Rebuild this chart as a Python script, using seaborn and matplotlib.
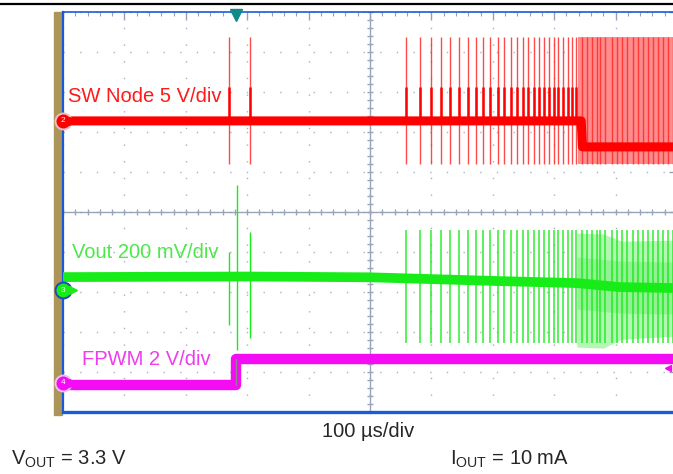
import numpy as np
import seaborn as sns
import matplotlib.pyplot as plt
from matplotlib.patches import Rectangle
from matplotlib.lines import Line2D

# ---- data (time in us, 100 us/div) ----
# SW node, volts (5 V/div)
sw_level_t = [0, 844, 846, 1000]
sw_level_v = [0.0, 0.0, -3.25, -3.25]
sw_early_t = [270, 305]
sw_burst_t = [559, 581, 600, 616, 630, 645, 659, 673, 684, 696, 708, 719, 729,
              739, 749, 758, 767, 776, 784, 792, 800, 807, 814, 822, 829, 836]
sw_dense_t = [845, 853, 862, 870, 875, 883, 894, 902, 910, 919, 928, 936, 945,
              953, 961, 969, 977, 985, 993]
sw_spike_hi = 10.5
sw_spike_lo = -5.4
sw_tail_hi = 4.25

# Vout ripple, mV (200 mV/div)
vout_level_t = [0, 300, 500, 712, 837, 907, 1000]
vout_level_mv = [65, 68, 64, 45, 35, 15, 10]
vout_early_t = [270, 283, 305]
vout_early_hi = [190, 525, 290]
vout_early_lo = [-175, -300, -240]
vout_spike_hi = 300
vout_spike_lo = -265
vout_band_t = [837, 880, 910, 1000]
vout_band_hi = [285, 280, 245, 250]
vout_band_lo = [-285, -290, -245, -230]

# FPWM pin, volts (2 V/div)
fpwm_t = [0, 282, 282, 1000]
fpwm_v = [-0.1, -0.1, 1.2, 1.2]

# channel scale (units per div) and screen offset (div)
SW_SCALE, SW_OFS = 5.0, 2.27
VOUT_SCALE, VOUT_OFS = 200.0, -1.96
FPWM_SCALE, FPWM_OFS = 2.0, -4.28

RED = '#ff0000'
GREEN = '#18ec18'
MAGENTA = '#f40cf4'


def div(v, scale, ofs):
    return np.asarray(v, dtype=float) / scale + ofs


sns.set_style('white')
plt.rcParams['font.family'] = ['Liberation Sans', 'DejaVu Sans']
plt.rcParams['mathtext.default'] = 'regular'

fig = plt.figure(figsize=(6.73, 4.74), dpi=100)
ax = fig.add_axes([63 / 673, 62.3 / 474, 614 / 673, 400 / 474])
ax.set_xlim(0, 1000)
ax.set_ylim(-5, 5)

# graticule
ax.set_xticks(np.arange(0, 1001, 100))
ax.set_xticks(np.arange(0, 1001, 20), minor=True)
ax.set_yticks(np.arange(-5, 5.1, 1))
ax.set_yticks(np.arange(-5, 5.1, 0.2), minor=True)
ax.grid(True, which='major', color='#a8b0c0', lw=1.0, ls=(0, (1, 11)))
ax.tick_params(which='both', direction='in', top=True, right=True,
               labelbottom=False, labelleft=False, color='#98a0b4')
ax.tick_params(which='major', length=6, width=1)
ax.tick_params(which='minor', length=3, width=0.8)
ax.axhline(0, color='#9aa4b8', lw=1.0, zorder=1)
ax.axvline(500, color='#9aa4b8', lw=1.0, zorder=1)
mx = np.arange(0, 1001, 20)
my = np.arange(-5, 5.1, 0.2)
ax.plot(mx, np.zeros_like(mx), ls='', marker='|', ms=5, color='#9aa4b8', zorder=1)
ax.plot(np.full_like(my, 500), my, ls='', marker='_', ms=5, color='#9aa4b8', zorder=1)
for side in ['left', 'bottom', 'top', 'right']:
    ax.spines[side].set_color('#1a5ad8')
ax.spines['left'].set_linewidth(1.6)
ax.spines['bottom'].set_linewidth(2.4)
ax.spines['top'].set_linewidth(1.2)

# ---- SW node (channel 2) ----
ax.fill_between([838, 1000], div(sw_spike_lo, SW_SCALE, SW_OFS),
                div(sw_spike_hi, SW_SCALE, SW_OFS), color='#ff8c8c', lw=0, zorder=2)
sw_all = sw_early_t + sw_burst_t + sw_dense_t
ax.vlines(sw_all, div(sw_spike_lo, SW_SCALE, SW_OFS), div(sw_spike_hi, SW_SCALE, SW_OFS),
          color='#ff2a2a', lw=1.0, alpha=0.85, zorder=3)
ax.vlines(sw_early_t + sw_burst_t, div(0.0, SW_SCALE, SW_OFS),
          div(sw_tail_hi, SW_SCALE, SW_OFS), color=RED, lw=1.8, zorder=4)
sns.lineplot(x=sw_level_t, y=div(sw_level_v, SW_SCALE, SW_OFS), ax=ax, color=RED,
             lw=6.5, estimator=None, sort=False, zorder=5)

# ---- Vout (channel 3) ----
v_lvl = np.interp(vout_band_t, vout_level_t, vout_level_mv)
ax.fill_between(vout_band_t, div(np.array(vout_band_lo), VOUT_SCALE, VOUT_OFS),
                div(np.array(vout_band_hi), VOUT_SCALE, VOUT_OFS),
                color='#b4f6b4', lw=0, zorder=2)
ax.fill_between(vout_band_t, div(v_lvl - 130, VOUT_SCALE, VOUT_OFS),
                div(v_lvl + 130, VOUT_SCALE, VOUT_OFS), color='#7cee7c', lw=0,
                alpha=0.6, zorder=2)
ax.vlines(vout_early_t, div(vout_early_lo, VOUT_SCALE, VOUT_OFS),
          div(vout_early_hi, VOUT_SCALE, VOUT_OFS), color=GREEN, lw=1.0, zorder=3)
ax.vlines(sw_burst_t + sw_dense_t, div(vout_spike_lo, VOUT_SCALE, VOUT_OFS),
          div(vout_spike_hi, VOUT_SCALE, VOUT_OFS), color=GREEN, lw=1.1, alpha=0.9, zorder=3)
sns.lineplot(x=vout_level_t, y=div(vout_level_mv, VOUT_SCALE, VOUT_OFS), ax=ax,
             color=GREEN, lw=7, estimator=None, sort=False, zorder=5)

# ---- FPWM (channel 4) ----
sns.lineplot(x=fpwm_t, y=div(fpwm_v, FPWM_SCALE, FPWM_OFS), ax=ax, color=MAGENTA,
             lw=7.5, estimator=None, sort=False, zorder=5)
ax.plot([282, 282], div([-0.1, 1.2], FPWM_SCALE, FPWM_OFS), color='#888888', lw=1, zorder=6)

# channel markers / trigger
for y0, col, lab, edge in [(SW_OFS, RED, '2', '#f0c0c0'), (VOUT_OFS, GREEN, '3', '#1a48c8'),
                           (FPWM_OFS, MAGENTA, '4', '#f0c0f0')]:
    ax.plot([0], [y0], marker='o', ms=11.5, mfc=col, mec=edge, mew=1.4, clip_on=False, zorder=12)
    ax.text(0, y0, lab, color='white', fontsize=6, ha='center', va='center',
            clip_on=False, zorder=13)
    ax.plot([16], [y0], marker='>', ms=5.5, color=col, clip_on=False, zorder=12)
ax.plot([282], [4.92], marker='v', ms=8, color='#108a88', clip_on=False, zorder=12)
ax.plot([985], [div(0.75, FPWM_SCALE, FPWM_OFS)], marker='<', ms=5, color=MAGENTA, zorder=12)

# channel labels
ax.text(8, 2.74, 'SW Node 5 V/div', color='#ff1a1a', fontsize=14.5, va='baseline', zorder=11)
ax.text(15, -1.16, 'Vout 200 mV/div', color='#4ce84c', fontsize=14.5, va='baseline', zorder=11)
ax.text(31, -3.83, 'FPWM 2 V/div', color='#ee3cee', fontsize=14.5, va='baseline', zorder=11)

ax.set_xlabel('')
ax.set_ylabel('')

# frame decorations outside the screen
fig.patches.append(Rectangle((54 / 673, 1 - 415 / 474), 8 / 673, 403 / 474,
                             transform=fig.transFigure, color='#ab9558', zorder=-1))
fig.lines.append(Line2D([0, 1], [1 - 4 / 474, 1 - 4 / 474], transform=fig.transFigure,
                        color='black', lw=1.6))

fig.text(368 / 673, 1 - 437 / 474, '100 µs/div', fontsize=14.5, ha='center', va='baseline')
fig.text(11 / 673, 1 - 465 / 474, '$V_{OUT}$ = 3.3 V', fontsize=14.5, va='baseline')
fig.text(450 / 673, 1 - 465 / 474, '$I_{OUT}$ = 10 mA', fontsize=14.5, va='baseline')

fig.savefig('out.png', dpi=100)
